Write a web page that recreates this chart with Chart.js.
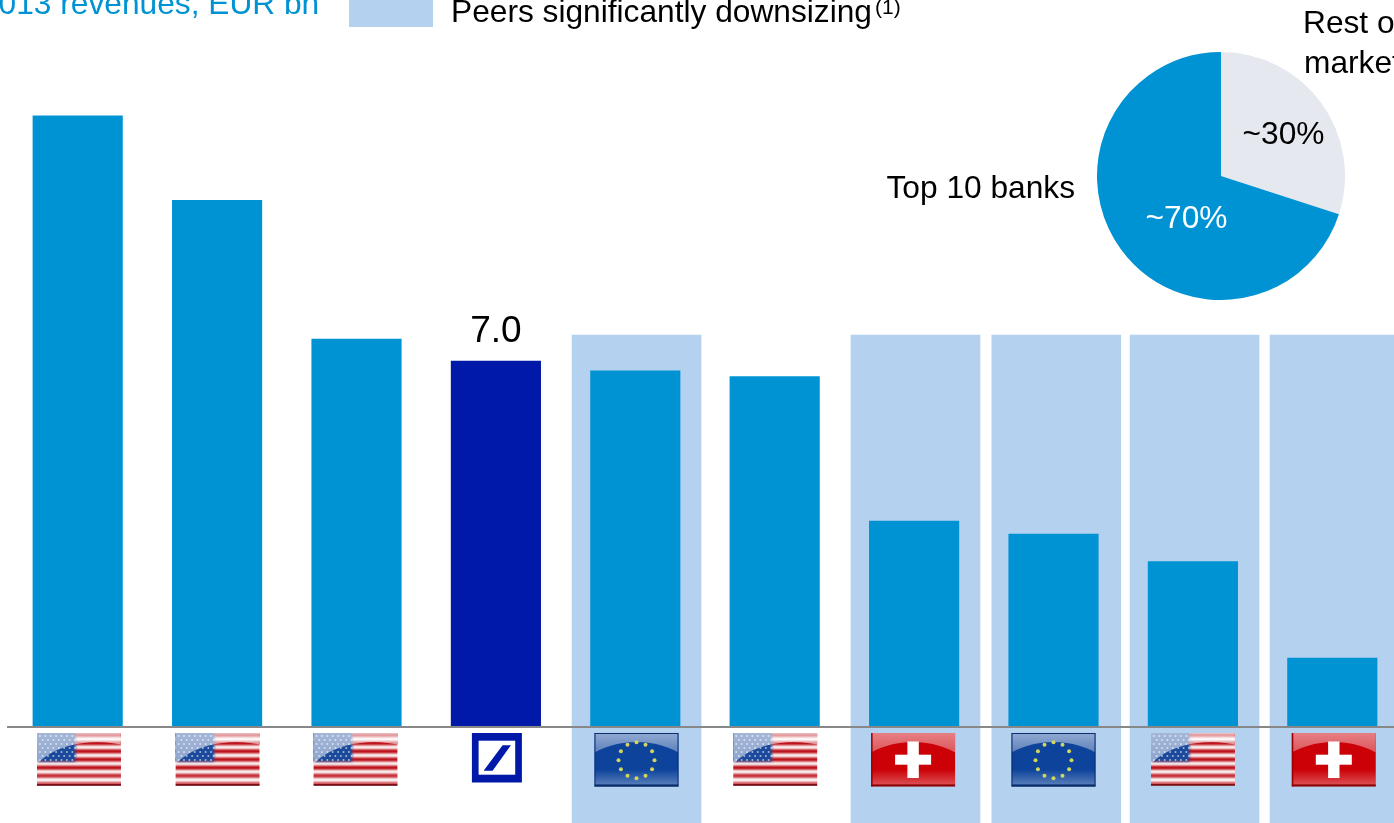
<!DOCTYPE html>
<html>
<head>
<meta charset="utf-8">
<title>2013 revenues</title>
<style>
  html, body { margin: 0; padding: 0; background: #fff; width: 1394px; height: 823px; overflow: hidden; }
  #wrap { position: relative; width: 1394px; height: 823px; overflow: hidden; }
  #barChart { position: absolute; left: 0; top: 0; }
  #pieChart { position: absolute; left: 1097px; top: 52px; }
</style>
<script src="https://cdn.jsdelivr.net/npm/chart.js@4/dist/chart.umd.min.js"></script>
</head>
<body>
<div id="wrap">
  <canvas id="barChart" width="1410" height="823"></canvas>
  <canvas id="pieChart" width="248" height="248"></canvas>
</div>
<script>
const categories = ["US", "US", "US", "DB", "EU", "US", "CH", "EU", "US", "CH"];
const revenues = [11.69, 10.07, 7.42, 7.0, 6.81, 6.7, 3.94, 3.69, 3.165, 1.32];
const valueLabels = ["", "", "", "7.0", "", "", "", "", "", ""];
const peerBands = [4.009, 6.01, 7.02, 8.012, 9.016];
const pieLabels = ["Rest of market", "Top 10 banks"];
const pieValues = [30, 70];
const pieTexts = ["~30%", "~70%"];

const BLUE = "#0093d3";
const DARK_BLUE = "#0019a8";
const BAND = "#b4d1ef";
const FONT = '"Liberation Sans", Arial, sans-serif';

const yMin = -1.836;
const yMax = 13.903;
const bandTop = 7.497;

// glass effect on the flags: pale area above a dome, light strip and dark rim at the bottom
function gloss(ctx, x, y, w, h, a1, a2, domeX, domeW) {
  ctx.save();
  ctx.beginPath();
  ctx.rect(x, y, w, h);
  ctx.ellipse(x + w * domeX, y + h * 1.05, w * domeW, h * 0.88, 0, 0, Math.PI * 2);
  ctx.clip("evenodd");
  const g = ctx.createLinearGradient(0, y, 0, y + h * 0.55);
  g.addColorStop(0, `rgba(255,255,255,${a1})`);
  g.addColorStop(1, `rgba(255,255,255,${a2})`);
  ctx.fillStyle = g;
  ctx.fillRect(x, y, w, h);
  ctx.restore();
  const b = ctx.createLinearGradient(0, y + h * 0.68, 0, y + h - 2);
  b.addColorStop(0, "rgba(255,255,255,0)");
  b.addColorStop(1, "rgba(255,255,255,0.3)");
  ctx.fillStyle = b;
  ctx.fillRect(x, y + h * 0.68, w, h * 0.32 - 2);
  ctx.fillStyle = "rgba(0,0,0,0.35)";
  ctx.fillRect(x, y + h - 2, w, 2);
}

function drawUS(ctx, x, y, w, h) {
  const row = h / 13;
  ctx.save();
  ctx.beginPath();
  ctx.rect(x, y, w, h);
  ctx.clip();
  ctx.filter = "blur(0.9px)";
  ctx.fillStyle = "#fff";
  ctx.fillRect(x - 2, y - 2, w + 4, h + 4);
  ctx.fillStyle = "#b8000a";
  for (let i = 0; i < 13; i += 2) {
    ctx.fillRect(x - 2, y + i * row, w + 4, row);
  }
  ctx.fillStyle = "#1b4a9c";
  ctx.fillRect(x - 2, y - 2, w * 0.46 + 2, h * 0.54 + 2);
  ctx.filter = "blur(0.5px)";
  ctx.fillStyle = "rgba(255,255,255,0.6)";
  for (let r = 0; r < 7; r++) {
    for (let c = 0; c < 7; c++) {
      ctx.beginPath();
      ctx.arc(x + 3 + c * 5.4 + (r % 2) * 2.7, y + 3 + r * 4, 1, 0, Math.PI * 2);
      ctx.fill();
    }
  }
  ctx.restore();
  gloss(ctx, x, y, w, h, 0.6, 0.5, 0.72, 0.85);
}

function drawEU(ctx, x, y, w, h) {
  ctx.fillStyle = "#0d439b";
  ctx.fillRect(x, y, w, h);
  gloss(ctx, x, y, w, h, 0.55, 0.22, 0.5, 0.8);
  ctx.save();
  ctx.fillStyle = "#d2d65c";
  ctx.filter = "blur(0.4px)";
  for (let i = 0; i < 12; i++) {
    const a = i * Math.PI / 6;
    ctx.beginPath();
    ctx.arc(x + w / 2 + Math.sin(a) * 18, y + h * 0.5 + 0.5 + Math.cos(a) * 18, 2, 0, Math.PI * 2);
    ctx.fill();
  }
  ctx.restore();
  ctx.strokeStyle = "#0b2f70";
  ctx.lineWidth = 1;
  ctx.strokeRect(x + 0.5, y + 0.5, w - 1, h - 1);
}

function drawCH(ctx, x, y, w, h) {
  ctx.fillStyle = "#cc0007";
  ctx.fillRect(x, y, w, h);
  gloss(ctx, x, y, w, h, 0.5, 0.25, 0.5, 0.8);
  ctx.fillStyle = "#9c0005";
  ctx.fillRect(x, y, 1.5, h);
  ctx.fillStyle = "#fff";
  ctx.fillRect(x + w / 2 - 5.7, y + 8.5, 11.4, 36.5);
  ctx.fillRect(x + w / 2 - 18, y + 21.7, 36, 10);
}

function drawDB(ctx, x, y, s) {
  ctx.fillStyle = DARK_BLUE;
  ctx.fillRect(x, y, s, s - 0.5);
  ctx.fillStyle = "#fff";
  ctx.fillRect(x + 6.7, y + 7.7, s - 13.4, 34);
  ctx.fillStyle = DARK_BLUE;
  ctx.beginPath();
  ctx.moveTo(x + 30.7, y + 12.3);
  ctx.lineTo(x + 39, y + 12.3);
  ctx.lineTo(x + 20.7, y + 37.7);
  ctx.lineTo(x + 11.7, y + 37.7);
  ctx.closePath();
  ctx.fill();
}

const flagShift = [1.2, 0.5, -1, 1, 1.2, 0.5, -1, 0, 0, 1.5];

const flagsPlugin = {
  id: "flags",
  afterDraw(chart) {
    const { ctx, scales } = chart;
    const top = scales.y.getPixelForValue(0) + 6;
    ctx.save();
    categories.forEach((c, i) => {
      const mid = scales.x.getPixelForValue(i) + flagShift[i];
      if (c === "US") drawUS(ctx, mid - 42, top, 84, 53);
      if (c === "EU") drawEU(ctx, mid - 42, top, 84, 53.5);
      if (c === "CH") drawCH(ctx, mid - 42, top, 84, 53.5);
      if (c === "DB") drawDB(ctx, mid - 25, top, 50);
    });
    ctx.restore();
  }
};

const textPlugin = {
  id: "texts",
  afterDraw(chart) {
    const { ctx, scales } = chart;
    ctx.save();
    ctx.textBaseline = "alphabetic";

    ctx.font = `31.7px ${FONT}`;
    ctx.fillStyle = BLUE;
    ctx.textAlign = "left";
    ctx.fillText("2013 revenues, EUR bn", -19, 14);

    ctx.fillStyle = BAND;
    ctx.fillRect(349, 0, 84, 27);

    ctx.fillStyle = "#000";
    ctx.fillText("Peers significantly downsizing", 451, 22);
    ctx.font = `21px ${FONT}`;
    ctx.fillText("(1)", 875, 14);

    ctx.font = `31.7px ${FONT}`;
    ctx.fillText("Rest of", 1303, 33);
    ctx.fillText("market", 1304, 73);
    ctx.textAlign = "right";
    ctx.fillText(pieLabels[1], 1075, 198);

    ctx.font = `37px ${FONT}`;
    ctx.textAlign = "center";
    valueLabels.forEach((t, i) => {
      if (!t) return;
      ctx.fillText(t, scales.x.getPixelForValue(i), scales.y.getPixelForValue(revenues[i]) - 19);
    });
    ctx.restore();
  }
};

new Chart(document.getElementById("barChart"), {
  type: "bar",
  data: {
    labels: categories,
    datasets: [
      {
        label: "2013 revenues, EUR bn",
        data: revenues,
        backgroundColor: categories.map(c => (c === "DB" ? DARK_BLUE : BLUE)),
        barThickness: 89.5,
        grouped: false,
        order: 1
      },
      {
        label: "Peers significantly downsizing",
        data: peerBands.map(b => ({ x: b, y: [yMin, bandTop] })),
        xAxisID: "xBand",
        backgroundColor: BAND,
        barThickness: 129,
        grouped: false,
        order: 2
      }
    ]
  },
  options: {
    responsive: false,
    animation: false,
    layout: { padding: { left: 8, right: 8, top: 0, bottom: 0 } },
    plugins: { legend: { display: false }, tooltip: { enabled: false } },
    scales: {
      x: {
        type: "category",
        position: { y: 0 },
        ticks: { display: false },
        grid: { display: false },
        border: { display: true, color: "#888888", width: 2, z: 1 }
      },
      xBand: { type: "linear", axis: "x", display: false, offset: false, min: -0.5, max: 9.5 },
      y: { display: false, min: yMin, max: yMax }
    }
  },
  plugins: [textPlugin, flagsPlugin]
});

const pieTextPlugin = {
  id: "pieTexts",
  afterDraw(chart) {
    const { ctx } = chart;
    const el = chart.getDatasetMeta(0).data[0];
    ctx.save();
    ctx.font = `31.7px ${FONT}`;
    ctx.textAlign = "center";
    ctx.textBaseline = "alphabetic";
    ctx.fillStyle = "#000";
    ctx.fillText(pieTexts[0], el.x + 62.5, el.y - 32);
    ctx.fillStyle = "#fff";
    ctx.fillText(pieTexts[1], el.x - 34.5, el.y + 52);
    ctx.restore();
  }
};

new Chart(document.getElementById("pieChart"), {
  type: "pie",
  data: {
    labels: pieLabels,
    datasets: [{ data: pieValues, backgroundColor: ["#e5e8ee", BLUE], borderWidth: 0 }]
  },
  options: {
    responsive: false,
    animation: false,
    plugins: { legend: { display: false }, tooltip: { enabled: false } }
  },
  plugins: [pieTextPlugin]
});
</script>
</body>
</html>
